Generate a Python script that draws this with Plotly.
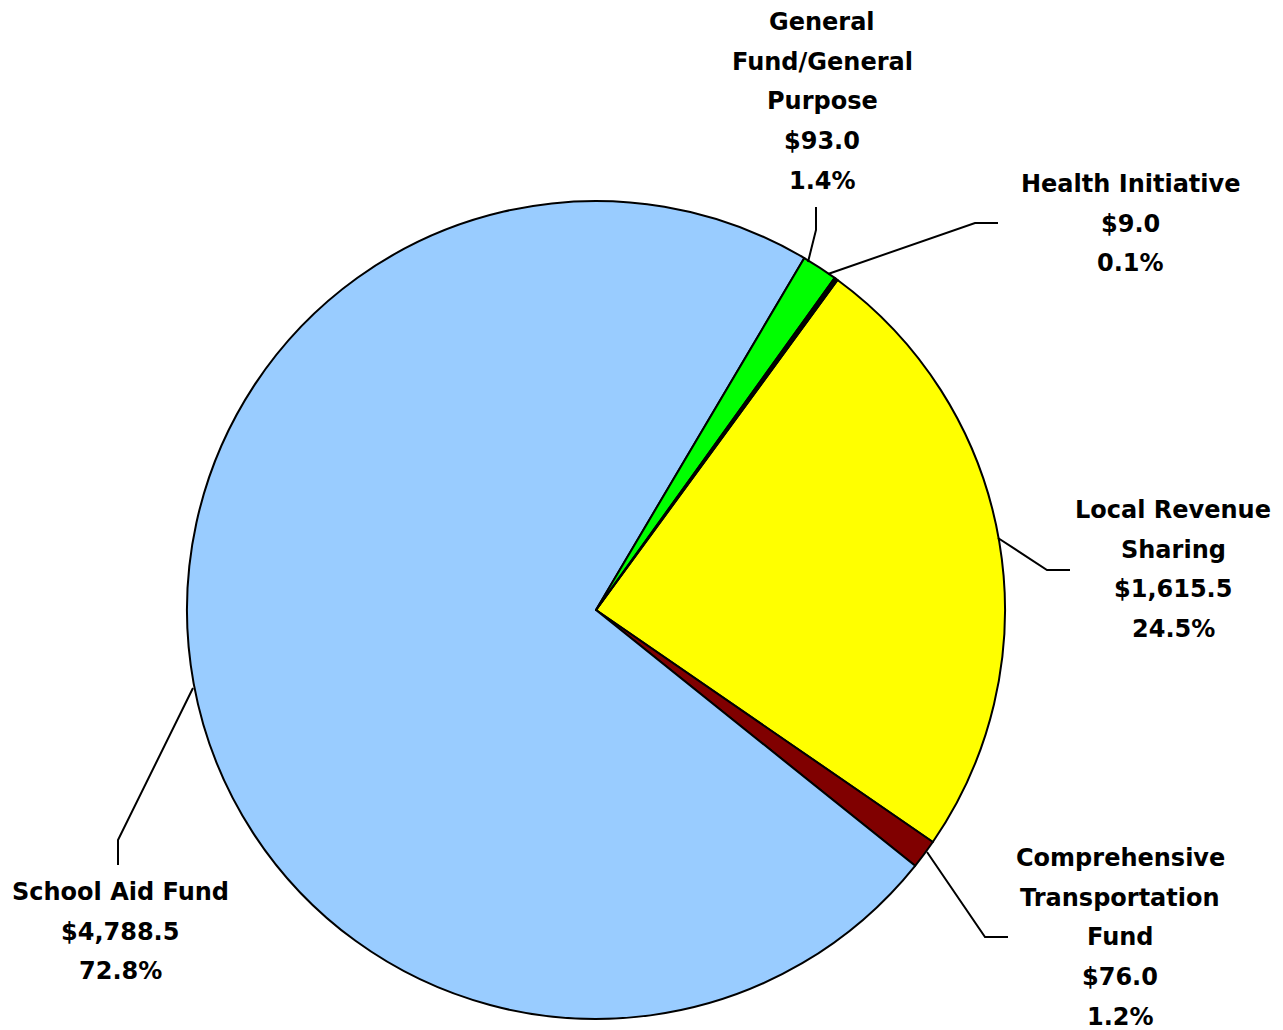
import plotly.graph_objects as go

# the page body adds an 8px margin, so the figure is drawn 8px smaller and shifted
OFF = 8
W, H = 1283 - OFF, 1030 - OFF

# slices in clockwise order starting from the top-right
names = ["Local Revenue Sharing", "Comprehensive Transportation Fund", "School Aid Fund",
         "General Fund/General Purpose", "Health Initiative"]
amounts = [1615.5, 76.0, 4788.5, 93.0, 9.0]
colors = ["#FFFF00", "#800000", "#99CCFF", "#00FF00", "#000000"]

# label text lines (name split as in the original)
label_lines = [
    ["Local Revenue", "Sharing"],
    ["Comprehensive", "Transportation", "Fund"],
    ["School Aid Fund"],
    ["General", "Fund/General", "Purpose"],
    ["Health Initiative"],
]

FONT = dict(family="DejaVu Sans", size=24, color="black")


def px_x(x):
    return (x - OFF) / W


def px_y(y):
    return 1 - (y - OFF) / H


# label centre x and first-line y, pixel positions on the page
label_pos = [(1173, 510), (1120, 858), (120, 892), (822, 22), (1130, 184)]
# leader lines, pixel points on the page
leaders = [
    [(1070, 570), (1047, 570), (998, 538)],
    [(1008, 937), (985, 937), (927, 852)],
    [(118, 865), (118, 840), (193, 688)],
    [(816, 207), (816, 230), (808, 262)],
    [(998, 223), (975, 223), (828, 274)],
]

total = sum(amounts)

cx, cy, r = 596, 610, 409
fig = go.Figure(go.Pie(
    labels=names,
    values=amounts,
    sort=False,
    direction="clockwise",
    rotation=36.2,
    marker=dict(colors=colors, line=dict(color="black", width=2)),
    textinfo="none",
    hoverinfo="label+value+percent",
    domain=dict(x=[px_x(cx - r), px_x(cx + r)], y=[px_y(cy + r), px_y(cy - r)]),
    showlegend=False,
))

annotations = []
for lines, amt, (lx, ly) in zip(label_lines, amounts, label_pos):
    pct = amt / total * 100
    all_lines = lines + [f"${amt:,.1f}", f"{pct:.1f}%"]
    for i, t in enumerate(all_lines):
        annotations.append(dict(
            x=px_x(lx), y=px_y(ly + i * 39.7), xref="paper", yref="paper",
            text=f"<b>{t}</b>", showarrow=False, font=FONT,
            xanchor="center", yanchor="middle",
        ))

shapes = []
for pts in leaders:
    path = "M " + " L ".join(f"{px_x(x)},{px_y(y)}" for x, y in pts)
    shapes.append(dict(type="path", path=path, xref="paper", yref="paper",
                       line=dict(color="black", width=2)))

fig.update_layout(
    width=W, height=H,
    margin=dict(l=0, r=0, t=0, b=0),
    paper_bgcolor="white",
    plot_bgcolor="white",
    annotations=annotations,
    shapes=shapes,
)

fig.write_html("out.html")
